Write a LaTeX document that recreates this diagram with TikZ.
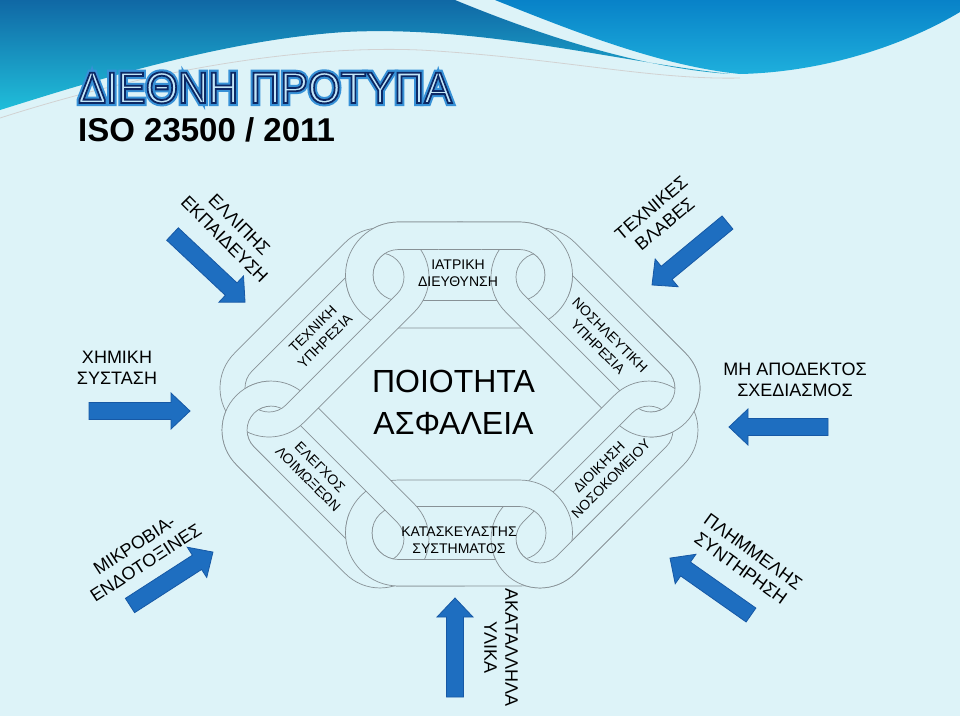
\documentclass[tikz,border=0pt]{standalone}
\usepackage{fontspec}
\setmainfont{Liberation Sans}
\usetikzlibrary{calc}
\definecolor{bgc}{RGB}{221,243,248}
\definecolor{linkgray}{RGB}{135,145,150}
\definecolor{arrowblue}{RGB}{30,110,192}
\definecolor{arrowedge}{RGB}{22,88,165}
\definecolor{hdark}{RGB}{16,104,165}
\definecolor{hcyan}{RGB}{32,190,218}
\definecolor{hblue}{RGB}{8,130,200}
\definecolor{hblue2}{RGB}{30,175,220}
\definecolor{tnavy}{RGB}{12,40,100}
\definecolor{tglow}{RGB}{55,145,215}
\definecolor{tfill}{RGB}{195,230,248}

\newcommand\mylinkring[6]{%
  \begin{scope}[shift={(#1,#2)},rotate=#3]
    \path[ringsty,even odd rule]
      (-#4,-#5) -- (#4,-#5) arc[start angle=-90,end angle=90,radius=#5] -- (-#4,#5) arc[start angle=90,end angle=270,radius=#5] -- cycle
      (-#4,-#6) -- (#4,-#6) arc[start angle=-90,end angle=90,radius=#6] -- (-#4,#6) arc[start angle=90,end angle=270,radius=#6] -- cycle;
  \end{scope}}
\newcommand\blockarr[4]{%
  \begin{scope}[shift={(#1,#2)},rotate=#3]
    \filldraw[arrowsty] (0,-8.5) -- ({#4-19},-8.5) -- ({#4-19},-18) -- (#4,0) -- ({#4-19},18) -- ({#4-19},8.5) -- (0,8.5) -- cycle;
  \end{scope}}
\newcommand\ltop{\mylinkring{459}{275}{0}{60.5}{53}{25.5}}
\newcommand\lur{\mylinkring{595.5}{332.5}{-45}{78.5}{49}{24}}
\newcommand\llr{\mylinkring{594.5}{484.5}{45}{77}{49}{24}}
\newcommand\lbot{\mylinkring{459}{533}{0}{60.5}{53}{26.5}}
\newcommand\lll{\mylinkring{325.5}{484.5}{-45}{77}{49}{24}}
\newcommand\lul{\mylinkring{324.5}{332.5}{45}{78.5}{49}{24}}
\newcommand\titletext{\scalebox{0.95}[1]{ΔΙΕΘΝΗ ΠΡΟΤΥΠΑ}}

\begin{document}
\begin{tikzpicture}[x=1pt,y=-1pt,
  ringsty/.style={fill=bgc,draw=linkgray,line width=0.7pt},
  arrowsty/.style={fill=arrowblue,draw=arrowedge,line width=0.8pt,line join=miter},
  lab/.style={font=\fontsize{18}{21}\selectfont,align=center,inner sep=0pt},
  clab/.style={font=\fontsize{14}{17}\selectfont,align=center,inner sep=0pt},
  titlef/.style={font=\fontsize{44}{44}\selectfont,inner sep=0pt,anchor=base west}]
\useasboundingbox (0,0) rectangle (960,716);
\fill[bgc] (0,0) rectangle (960,716);

% header
\shade[top color=hdark,bottom color=hcyan] (0,0) -- (455,0) .. controls (540,35) and (640,68) .. (730,74) .. controls (620,62) and (480,25) .. (345,32) .. controls (220,40) and (80,85) .. (0,110) -- cycle;
\shade[top color=hblue,bottom color=hblue2] (495,0) .. controls (570,30) and (660,66) .. (740,74) .. controls (830,72) and (910,42) .. (960,12) -- (960,0) -- cycle;
\draw[white!65!gray,line width=0.8pt] (0,118) .. controls (150,70) and (300,45) .. (420,50) .. controls (560,58) and (650,80) .. (740,78);

% title (outlined text via PDF text render mode)
\coordinate (tc) at (78,103);
\node[titlef,text=tglow] (titleglow) at (tc) {\special{pdf:literal direct 2 Tr 6 w 0.216 0.569 0.843 RG}\titletext\special{pdf:literal direct 0 Tr 1 w}};
\node[titlef,text=tfill] (title) at (tc) {\special{pdf:literal direct 2 Tr 1.8 w 0.047 0.157 0.392 RG}\titletext\special{pdf:literal direct 0 Tr 1 w}};
\node[font=\bfseries\fontsize{33}{33}\selectfont,anchor=base west,inner sep=0pt] (iso) at (78,141) {ISO 23500 / 2011};

% chain links
\ltop \lur \llr \lbot \lll \lul
% interlocks
\begin{scope}\clip[shift={(390,276)},rotate=118.7] (0,-90) rectangle (90,90); \ltop \end{scope}
\begin{scope}\clip[shift={(530,276)},rotate=61.3] (0,-90) rectangle (90,90); \ltop \end{scope}
\begin{scope}\clip[shift={(650,409)},rotate=0] (0,-90) rectangle (90,90); \lur \end{scope}
\begin{scope}\clip[shift={(530,535)},rotate=-61.9] (0,-90) rectangle (90,90); \llr \end{scope}
\begin{scope}\clip[shift={(390,535)},rotate=241.9] (0,-90) rectangle (90,90); \lbot \end{scope}
\begin{scope}\clip[shift={(270,409)},rotate=180] (0,-90) rectangle (90,90); \lll \end{scope}

% chain labels
\node[clab] (med) at (458,273.5) {ΙΑΤΡΙΚΗ\\ΔΙΕΥΘΥΝΣΗ};
\node[clab,rotate=45] (tech) at (319,335) {ΤΕΧΝΙΚΗ\\ΥΠΗΡΕΣΙΑ};
\node[clab,rotate=-45] (nurse) at (604,341) {ΝΟΣΗΛΕΥΤΙΚΗ\\ΥΠΗΡΕΣΙΑ};
\node[clab,rotate=-45] (infect) at (314,473) {ΕΛΕΓΧΟΣ\\ΛΟΙΜΩΞΕΩΝ};
\node[clab,rotate=45] (admin) at (605,473) {ΔΙΟΙΚΗΣΗ\\ΝΟΣΟΚΟΜΕΙΟΥ};
\node[clab] (manuf) at (459,540) {ΚΑΤΑΣΚΕΥΑΣΤΗΣ\\ΣΥΣΤΗΜΑΤΟΣ};
\node[font=\fontsize{32}{42}\selectfont,align=center,inner sep=0pt] (qual) at (453.5,402.5) {ΠΟΙΟΤΗΤΑ\\ΑΣΦΑΛΕΙΑ};

% outer labels
\node[lab] (chem) at (117,368) {ΧΗΜΙΚΗ\\ΣΥΣΤΑΣΗ};
\node[lab] (design) at (795,380) {ΜΗ ΑΠΟΔΕΚΤΟΣ\\ΣΧΕΔΙΑΣΜΟΣ};
\node[lab,rotate=-45] (train) at (232,232) {ΕΛΛΙΠΗΣ\\ΕΚΠΑΙΔΕΥΣΗ};
\node[lab,rotate=40] (fail) at (658,216) {ΤΕΧΝΙΚΕΣ\\ΒΛΑΒΕΣ};
\node[lab,rotate=33] (micro) at (140,554) {ΜΙΚΡΟΒΙΑ-\\ΕΝΔΟΤΟΞΙΝΕΣ};
\node[lab,rotate=-36] (maint) at (747,560) {ΠΛΗΜΜΕΛΗΣ\\ΣΥΝΤΗΡΗΣΗ};
\node[lab,rotate=-90] (mat) at (501,647.5) {ΑΚΑΤΑΛΛΗΛΑ\\ΥΛΙΚΑ};

% arrows
\blockarr{89}{411}{0}{101}
\blockarr{828}{427}{180}{99}
\blockarr{172.5}{234}{-43.2}{99.5}
\blockarr{727.5}{222.5}{219.6}{98}
\blockarr{130}{605.5}{32.8}{98.7}
\blockarr{751}{615}{144.9}{99}
\blockarr{455}{697}{90}{99}
\end{tikzpicture}
\end{document}
